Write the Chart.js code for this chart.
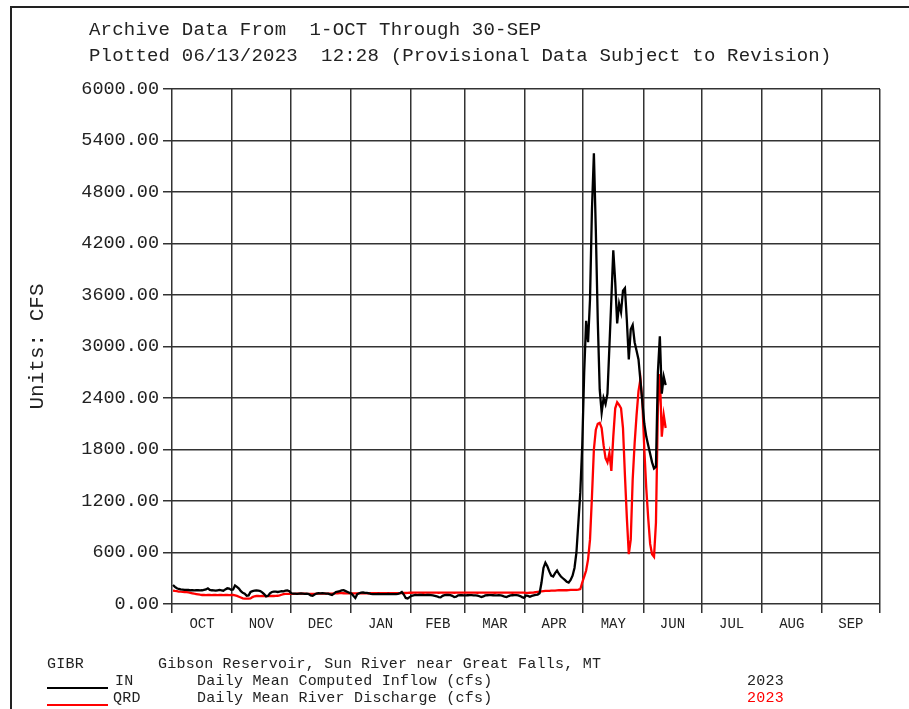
<!DOCTYPE html>
<html>
<head>
<meta charset="utf-8">
<title>Gibson Reservoir - Archive Data</title>
<script src="https://cdn.jsdelivr.net/npm/chart.js@4"></script>
<style>
  body { margin: 0; background: #fff; }
  #wrap { position: relative; width: 909px; height: 709px; overflow: hidden; font-family: 'Liberation Mono', monospace; color: #222; }
  #wrap canvas { position: absolute; left: 0; top: 0; }
  .txt { position: absolute; white-space: pre; line-height: 1; }
  .head { font-size: 19px; letter-spacing: 0.2px; }
  .leg { font-size: 15px; letter-spacing: 0.23px; }
  .frameTop { position: absolute; left: 10px; top: 6px; width: 899px; height: 0; border-top: 2px solid #222; }
  .frameLeft { position: absolute; left: 10px; top: 6px; width: 0; height: 703px; border-left: 2px solid #222; }
  .key { position: absolute; left: 47px; width: 61px; height: 2px; }
</style>
</head>
<body>
<div id="wrap">
  <canvas id="flowChart" width="909" height="709"></canvas>
  <div class="frameTop"></div>
  <div class="frameLeft"></div>

  <div class="txt head" style="left:89px;top:21px">Archive Data From  1-OCT Through 30-SEP</div>
  <div class="txt head" style="left:89px;top:47px">Plotted 06/13/2023  12:28 (Provisional Data Subject to Revision)</div>

  <div class="txt leg" style="left:47px;top:657px">GIBR</div>
  <div class="txt leg" style="left:158px;top:657px">Gibson Reservoir, Sun River near Great Falls, MT</div>
  <div class="key" style="top:687px;background:#000"></div>
  <div class="txt leg" style="left:115px;top:674px">IN</div>
  <div class="txt leg" style="left:197px;top:674px">Daily Mean Computed Inflow (cfs)</div>
  <div class="txt leg" style="left:747px;top:674px">2023</div>
  <div class="key" style="top:704px;background:#f00"></div>
  <div class="txt leg" style="left:113px;top:691px">QRD</div>
  <div class="txt leg" style="left:197px;top:691px">Daily Mean River Discharge (cfs)</div>
  <div class="txt leg" style="left:747px;top:691px;color:#f00">2023</div>
</div>

<script>
// Water year Oct 1 2022 - Sep 30 2023, day 0 = 1-OCT
const monthNames = ['OCT', 'NOV', 'DEC', 'JAN', 'FEB', 'MAR', 'APR', 'MAY', 'JUN', 'JUL', 'AUG', 'SEP'];
const monthDays = [31, 30, 31, 31, 28, 31, 30, 31, 30, 31, 31, 30];

// IN - Daily Mean Computed Inflow (cfs), through 12-JUN
const inflow = [
    221, 200, 183, 175, 170, 168, 165, 165, 163, 160, 160, 158, 160, 162, 158, 160, 165, 170, 183, 165, 160, 158, 155, 160, 165, 160, 155, 170, 183, 180, 165,
    170, 215, 200, 180, 150, 130, 120, 95, 100, 140, 150, 155, 158, 155, 150, 135, 115, 88, 95, 125, 140, 145, 143, 140, 145, 150, 148, 155, 158, 150,
    125, 122, 120, 118, 120, 122, 120, 118, 120, 115, 100, 95, 110, 122, 125, 124, 126, 124, 122, 120, 112, 105, 120, 140, 145, 150, 158, 160, 150, 140, 130,
    122, 95, 70, 115, 125, 132, 134, 130, 130, 125, 118, 116, 115, 116, 118, 116, 115, 114, 116, 118, 116, 115, 114, 116, 118, 125, 140, 110, 70, 65, 80,
    95, 100, 105, 104, 106, 105, 103, 104, 106, 105, 104, 100, 95, 90, 80, 78, 95, 104, 106, 105, 103, 95, 80, 85, 100, 102, 103, 101,
    100, 102, 104, 103, 101, 100, 98, 90, 80, 88, 100, 102, 103, 104, 102, 100, 101, 103, 100, 95, 85, 80, 92, 100, 102, 104, 103, 100, 92, 80, 72,
    100, 95, 85, 95, 100, 105, 110, 125, 250, 420, 480, 440, 380, 330, 320, 360, 390, 350, 320, 300, 280, 260, 250, 280, 330, 420, 600, 950, 1300, 1850,
    2700, 3300, 3050, 3550, 4600, 5250, 4350, 3300, 2500, 2230, 2400, 2330, 2450, 3000, 3550, 4120, 3750, 3270, 3500, 3400, 3650, 3680, 3300, 2850, 3200, 3250, 3050, 2950, 2850, 2600, 2350,
    2100, 1950, 1850, 1750, 1650, 1580, 1600, 2700, 3120, 2450, 2650, 2550
];

// QRD - Daily Mean River Discharge (cfs), through 12-JUN
const discharge = [
    155, 152, 150, 145, 143, 142, 140, 138, 135, 130, 125, 120, 116, 112, 108, 105, 105, 104, 105, 105, 104, 105, 105, 104, 105, 105, 104, 105, 105, 104, 105,
    105, 100, 95, 85, 75, 65, 62, 62, 63, 65, 80, 90, 93, 93, 92, 93, 94, 93, 92, 93, 94, 93, 95, 96, 100, 108, 116, 118, 118, 117,
    118, 118, 119, 120, 120, 121, 120, 120, 119, 118, 118, 118, 119, 120, 121, 122, 122, 121, 120, 120, 121, 122, 123, 124, 125, 126, 126, 125, 124, 124, 124,
    124, 124, 124, 124, 124, 124, 124, 124, 124, 125, 125, 125, 125, 125, 125, 125, 126, 126, 126, 126, 126, 126, 126, 126, 126, 127, 128, 128, 128, 130, 132,
    131, 132, 132, 133, 132, 132, 131, 132, 132, 132, 133, 132, 132, 132, 131, 132, 132, 132, 133, 132, 132, 132, 131, 132, 132, 132, 132, 132,
    132, 132, 133, 132, 132, 132, 131, 132, 132, 132, 133, 132, 132, 132, 132, 131, 132, 132, 132, 133, 132, 132, 132, 132, 131, 132, 132, 132, 133, 132, 132,
    130, 130, 131, 132, 134, 138, 142, 145, 148, 150, 152, 152, 153, 155, 155, 156, 158, 160, 160, 160, 162, 160, 162, 165, 165, 165, 165, 168, 175, 250,
    320, 390, 520, 750, 1250, 1800, 2030, 2100, 2110, 2050, 1850, 1700, 1650, 1760, 1550, 1950, 2280, 2350, 2320, 2280, 2050, 1500, 1000, 580, 750, 1450, 1870, 2200, 2480, 2620, 2350,
    1800, 1350, 1000, 700, 580, 550, 950, 2300, 2680, 1950, 2200, 2050
];

const yMax = 6000;
const yStep = 600;

const FONT = "'Liberation Mono', 'DejaVu Sans Mono', monospace";
const gridColor = '#333333';
const textColor = '#222';

// month boundaries (gridlines) and month centres (labels)
const bounds = [0];
monthDays.forEach(d => bounds.push(bounds[bounds.length - 1] + d));
const mids = monthDays.map((d, i) => bounds[i] + d / 2);
const isBound = v => bounds.indexOf(v) >= 0;

function toPoints(arr) {
    return arr.map((v, i) => ({ x: i + 0.5, y: v }));
}

const ctx = document.getElementById('flowChart').getContext('2d');
new Chart(ctx, {
    type: 'line',
    data: {
        datasets: [
            {
                label: 'IN',
                data: toPoints(inflow),
                borderColor: '#000000',
                borderWidth: 2.3,
                pointRadius: 0,
                tension: 0
            },
            {
                label: 'QRD',
                data: toPoints(discharge),
                borderColor: '#ff0000',
                borderWidth: 2.3,
                pointRadius: 0,
                tension: 0
            }
        ]
    },
    options: {
        responsive: false,
        animation: false,
        devicePixelRatio: 1,
        layout: { padding: { left: 0, top: 89, right: 29, bottom: 0 } },
        plugins: {
            legend: { display: false },
            tooltip: { enabled: false }
        },
        scales: {
            x: {
                type: 'linear',
                min: 0,
                max: bounds[bounds.length - 1],
                afterBuildTicks: scale => {
                    scale.ticks = bounds.concat(mids).sort((a, b) => a - b).map(v => ({ value: v }));
                },
                afterFit: scale => { scale.height = 105; },
                border: { display: false },
                grid: {
                    color: c => (c.tick && isBound(c.tick.value)) ? gridColor : 'rgba(0,0,0,0)',
                    tickColor: c => (c.tick && isBound(c.tick.value)) ? gridColor : 'rgba(0,0,0,0)',
                    lineWidth: c => (c.tick && isBound(c.tick.value)) ? 1.5 : 0,
                    tickLength: 9
                },
                ticks: {
                    autoSkip: false,
                    maxRotation: 0,
                    padding: 3,
                    color: textColor,
                    font: { family: FONT, size: 14 },
                    callback: v => {
                        const i = mids.indexOf(v);
                        return i >= 0 ? monthNames[i] : '';
                    }
                }
            },
            y: {
                min: 0,
                max: yMax,
                afterFit: scale => { scale.width = 172; },
                border: { display: false },
                grid: { color: gridColor, lineWidth: 1.5, tickLength: 9 },
                ticks: {
                    stepSize: yStep,
                    padding: 4,
                    color: textColor,
                    font: { family: FONT, size: 18.5 },
                    callback: v => v.toFixed(2)
                },
                title: {
                    display: true,
                    text: 'Units: CFS',
                    color: textColor,
                    font: { family: FONT, size: 21 },
                    padding: { top: 25, bottom: 0 }
                }
            }
        }
    }
});
</script>
</body>
</html>
